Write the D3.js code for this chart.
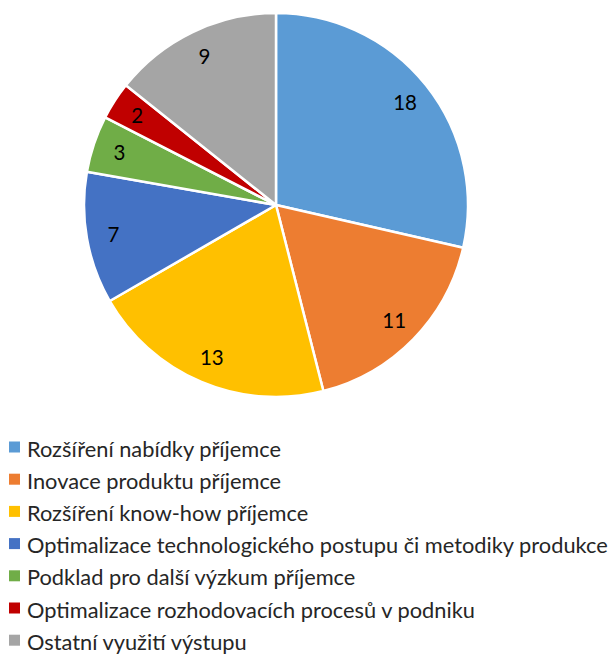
<!DOCTYPE html>
<html><head><meta charset="utf-8">
<script src="https://cdn.jsdelivr.net/npm/d3@7"></script>
<style>body{margin:0;background:#fff}</style>
</head><body>
<svg id="c" width="610" height="655"></svg>
<script>
const categories = [
  "Rozšíření nabídky příjemce",
  "Inovace produktu příjemce",
  "Rozšíření know-how příjemce",
  "Optimalizace technologického postupu či metodiky produkce",
  "Podklad pro další výzkum příjemce",
  "Optimalizace rozhodovacích procesů v podniku",
  "Ostatní využití výstupu"
];
const values = [18, 11, 13, 7, 3, 2, 9];
const colors = ["#5B9BD5", "#ED7D31", "#FFC000", "#4472C4", "#70AD47", "#C00000", "#A5A5A5"];

const svg = d3.select("#c");
const cx = 276, cy = 205, R = 192;
const data = categories.map((c, i) => ({cat: c, v: values[i], col: colors[i]}));
const pie = d3.pie().value(d => d.v).sort(null);
const arc = d3.arc().innerRadius(0).outerRadius(R);
const labelArc = d3.arc().innerRadius(R * 0.86).outerRadius(R * 0.86);
const g = svg.append("g").attr("transform", `translate(${cx},${cy})`);
const arcs = pie(data);
g.selectAll("path").data(arcs).join("path")
  .attr("d", arc).attr("fill", d => d.data.col)
  .attr("stroke", "#fff").attr("stroke-width", 2.5).attr("stroke-linejoin", "round");
g.selectAll("text").data(arcs).join("text")
  .attr("transform", d => `translate(${labelArc.centroid(d)})`)
  .attr("text-anchor", "middle").attr("dominant-baseline", "central")
  .attr("font-family", "Lato, sans-serif").attr("font-size", 20.5)
  .attr("fill", "#000")
  .text(d => d.data.v);

const lg = svg.append("g");
const row = lg.selectAll("g").data(data).join("g")
  .attr("transform", (d, i) => `translate(0,${456.5 + i * 32.2})`);
row.append("rect").attr("x", 9).attr("y", -15).attr("width", 11).attr("height", 11).attr("fill", d => d.col);
row.append("text").attr("x", 27).attr("y", 0)
  .attr("font-family", "Lato, sans-serif").attr("font-size", 21.8).attr("fill", "#262626")
  .text(d => d.cat);
</script>
</body></html>
